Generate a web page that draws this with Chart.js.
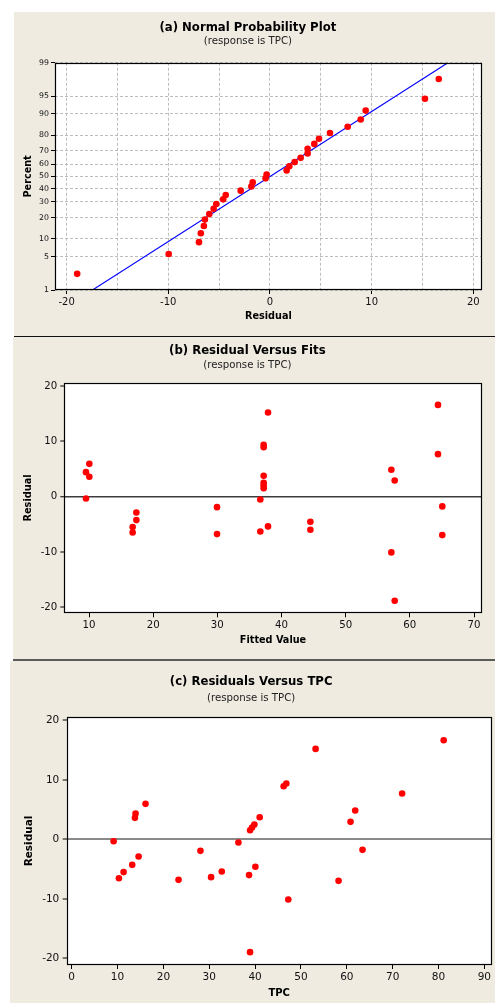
<!DOCTYPE html>
<html><head><meta charset="utf-8">
<script src="https://cdn.jsdelivr.net/npm/chart.js@4.4.1/dist/chart.umd.min.js"></script>
<style>
html,body{margin:0;padding:0;background:#fff;width:495px;height:1003px;overflow:hidden;}
.panel{position:absolute;background:#efebe1;}
#pa{left:14px;top:12px;width:481px;height:324px;}
#lineA{position:absolute;left:14px;top:336px;width:481px;height:1px;background:#111;}
#pb{left:13px;top:337px;width:482px;height:322px;}
#lineB{position:absolute;left:13px;top:659px;width:482px;height:2px;background:#5a5a5a;}
#pc{left:10px;top:661px;width:485px;height:342px;}
canvas{display:block;}
</style></head>
<body>
<div class="panel" id="pa"><canvas id="ca"></canvas></div>
<div id="lineA"></div>
<div class="panel" id="pb"><canvas id="cb"></canvas></div>
<div id="lineB"></div>
<div class="panel" id="pc"><canvas id="cc"></canvas></div>
<script>
// ---------- Data ----------
// (a) Normal probability plot
const pctTicksA = [1, 5, 10, 20, 30, 40, 50, 60, 70, 80, 90, 95, 99];
const resA = [-18.96, -9.96, -6.98, -6.8, -6.5, -6.4, -5.97, -5.54, -5.28, -4.6, -4.35, -2.88, -1.83, -1.7, -0.43, -0.33, 1.64, 1.9, 2.43, 3.02, 3.7, 3.7, 4.36, 4.82, 5.9, 7.64, 8.92, 9.41, 15.24, 16.6];
const pctA = [2.3, 5.6, 8.9, 12.2, 15.5, 18.8, 22.0, 25.3, 28.6, 31.9, 35.2, 38.5, 41.8, 45.1, 48.4, 51.6, 54.9, 58.2, 61.5, 64.8, 68.1, 71.4, 74.7, 78.0, 81.3, 84.5, 87.8, 91.1, 94.4, 97.7];
const fitLineResA = [-17.45, 17.5];
const fitLinePctA = [1, 99];
// (b) Residual versus fits
const fittedB = [9.53, 10.05, 10.05, 9.53, 17.38, 17.38, 16.8, 16.8, 29.95, 29.95, 37.9, 37.22, 37.22, 37.22, 37.22, 37.22, 37.22, 36.7, 36.7, 37.9, 44.5, 44.5, 57.12, 57.64, 57.12, 57.64, 64.39, 64.39, 65.06, 65.06];
const residB = [4.42, 5.92, 3.58, -0.33, -2.86, -4.24, -5.5, -6.47, -1.9, -6.77, 15.19, 9.35, 8.93, 3.76, 2.5, 2.0, 1.53, -0.51, -6.29, -5.38, -4.54, -5.98, 4.84, 2.92, -10.08, -18.8, 16.57, 7.67, -1.77, -6.95];
// (c) Residuals versus TPC
const tpcC = [9.14, 10.3, 11.32, 13.2, 13.79, 13.93, 14.59, 16.1, 23.3, 28.08, 30.4, 32.73, 36.36, 38.68, 38.9, 39.33, 39.84, 40.06, 41.0, 38.9, 46.23, 46.81, 47.24, 53.19, 58.2, 60.81, 61.83, 63.43, 72.06, 81.13];
const residC = [-0.31, -6.52, -5.5, -4.28, 3.61, 4.34, -2.88, 5.96, -6.8, -1.93, -6.35, -5.4, -0.53, -6.0, 1.54, 1.99, 2.49, -4.6, 3.72, -18.94, 8.92, 9.37, -10.1, 15.19, -6.97, 2.94, 4.84, -1.76, 7.69, 16.64];

// ---------- Helpers ----------
function probit(p) {
  const a = [-3.969683028665376e+01, 2.209460984245205e+02, -2.759285104469687e+02, 1.383577518672690e+02, -3.066479806614716e+01, 2.506628277459239e+00];
  const b = [-5.447609879822406e+01, 1.615858368580409e+02, -1.556989798598866e+02, 6.680131188771972e+01, -1.328068155288572e+01];
  const c = [-7.784894002430293e-03, -3.223964580411365e-01, -2.400758277161838e+00, -2.549732539343734e+00, 4.374664141464968e+00, 2.938163982698783e+00];
  const d = [7.784695709041462e-03, 3.224671290700398e-01, 2.445134137142996e+00, 3.754408661907416e+00];
  const pl = 0.02425, ph = 1 - pl;
  let q, r;
  if (p < pl) { q = Math.sqrt(-2 * Math.log(p)); return (((((c[0]*q+c[1])*q+c[2])*q+c[3])*q+c[4])*q+c[5]) / ((((d[0]*q+d[1])*q+d[2])*q+d[3])*q+1); }
  if (p <= ph) { q = p - 0.5; r = q*q; return (((((a[0]*r+a[1])*r+a[2])*r+a[3])*r+a[4])*r+a[5])*q / (((((b[0]*r+b[1])*r+b[2])*r+b[3])*r+b[4])*r+1); }
  q = Math.sqrt(-2 * Math.log(1 - p)); return -(((((c[0]*q+c[1])*q+c[2])*q+c[3])*q+c[4])*q+c[5]) / ((((d[0]*q+d[1])*q+d[2])*q+d[3])*q+1);
}
const pz = v => probit(v / 100);
const FONT = "'DejaVu Sans', Verdana, sans-serif";
const TXT = '#111';

const framePlugin = {
  id: 'frame',
  beforeDraw(chart) {
    const {ctx, chartArea: a} = chart;
    ctx.save(); ctx.fillStyle = '#fff';
    ctx.fillRect(a.left, a.top, a.right - a.left, a.bottom - a.top); ctx.restore();
  },
  afterDatasetsDraw(chart) {
    const {ctx, chartArea: a} = chart;
    ctx.save(); ctx.strokeStyle = '#000'; ctx.lineWidth = 1.2;
    const l = Math.round(a.left) + 0.5, t = Math.round(a.top) + 0.5;
    const r = Math.round(a.right) - 0.5, b = Math.round(a.bottom) - 0.5;
    ctx.strokeRect(l, t, r - l, b - t); ctx.restore();
  }
};

function titles(title, sub, tTop, sTop, sBot) {
  return {
    legend: {display: false}, tooltip: {enabled: false},
    title: {display: true, text: title, color: '#000', font: {family: FONT, size: 11.7, weight: 'bold'}, padding: {top: tTop, bottom: 0}},
    subtitle: {display: true, text: sub, color: '#222', font: {family: FONT, size: 10.2}, padding: {top: sTop, bottom: sBot}}
  };
}
const pointStyle = {pointRadius: 3.3, pointHoverRadius: 3.3, backgroundColor: '#ff0000', borderWidth: 0, showLine: false};

// ---------- (a) ----------
new Chart(document.getElementById('ca'), {
  type: 'scatter',
  data: {datasets: [
    Object.assign({data: resA.map((r, i) => ({x: r, y: pz(pctA[i])}))}, pointStyle, {order: 0}),
    {type: 'line', data: fitLineResA.map((r, i) => ({x: r, y: pz(fitLinePctA[i])})), borderColor: '#0000ff', borderWidth: 1.1, pointRadius: 0, fill: false, order: 1}
  ]},
  options: {
    responsive: true, maintainAspectRatio: false, animation: false, events: [],
    layout: {padding: {left: 0, right: 13.3, top: 0, bottom: 0}},
    plugins: titles('(a) Normal Probability Plot', '(response is TPC)', 8.8, 0.7, 15),
    scales: {
      x: {type: 'linear', min: -21.14, max: 20.82,
        afterFit: s => { s.height = 46; },
        ticks: {stepSize: 5, includeBounds: false, padding: 2.3, maxRotation: 0, autoSkip: false,
          color: TXT, font: {family: FONT, size: 10}, callback: v => (v % 10 === 0 ? v : '')},
        grid: {color: '#bdbdbd', lineWidth: 1, tickLength: 4, tickWidth: 1,
          tickColor: c => (c.tick && c.tick.value % 10 === 0 ? '#000' : 'rgba(0,0,0,0)')},
        border: {display: false, dash: [3, 2]},
        title: {display: true, text: 'Residual', color: '#000', font: {family: FONT, size: 9.7, weight: 'bold'}, padding: {top: 0, bottom: 14.2}}
      },
      y: {type: 'linear', min: pz(pctTicksA[0]), max: pz(pctTicksA[pctTicksA.length - 1]),
        afterFit: s => { s.width = 41; },
        afterBuildTicks: s => { s.ticks = pctTicksA.map(p => ({value: pz(p)})); },
        ticks: {padding: 2, autoSkip: false, color: TXT, font: {family: FONT, size: 7.8}, callback: (v, i) => pctTicksA[i]},
        grid: {color: '#bdbdbd', lineWidth: 1, tickLength: 4, tickWidth: 1, tickColor: '#000'},
        border: {display: false, dash: [3, 2]},
        title: {display: true, text: 'Percent', color: '#000', font: {family: FONT, size: 9.7, weight: 'bold'}, padding: {top: 8.5, bottom: 0}}
      }
    }
  },
  plugins: [framePlugin]
});

// ---------- (b) & (c) ----------
function residChart(id, xs, ys, cfg) {
  new Chart(document.getElementById(id), {
    type: 'scatter',
    data: {datasets: [Object.assign({data: xs.map((x, i) => ({x: x, y: ys[i]}))}, pointStyle)]},
    options: {
      responsive: true, maintainAspectRatio: false, animation: false, events: [],
      layout: {padding: {left: 0, right: cfg.padRight, top: 0, bottom: 0}},
      plugins: titles(cfg.title, '(response is TPC)', cfg.tTop, cfg.sTop, cfg.sBot),
      scales: {
        x: {type: 'linear', min: cfg.xMin, max: cfg.xMax,
          afterFit: s => { s.height = cfg.xH; },
          ticks: {stepSize: 10, includeBounds: false, padding: cfg.xPad, maxRotation: 0, autoSkip: false,
            color: TXT, font: {family: FONT, size: cfg.tickSize}},
          grid: {drawOnChartArea: false, tickLength: 4, tickWidth: 1, tickColor: '#000'},
          border: {display: false},
          title: {display: true, text: cfg.xTitle, color: '#000', font: {family: FONT, size: cfg.xtSize, weight: 'bold'}, padding: {top: 0, bottom: cfg.xtPad}}
        },
        y: {type: 'linear', min: cfg.yMin, max: cfg.yMax,
          afterFit: s => { s.width = cfg.yW; },
          ticks: {stepSize: 10, includeBounds: false, padding: cfg.yPad, autoSkip: false,
            color: TXT, font: {family: FONT, size: cfg.tickSize}},
          grid: {color: c => (c.tick && c.tick.value === 0 ? cfg.zeroColor : 'rgba(0,0,0,0)'),
            lineWidth: c => (c.tick && c.tick.value === 0 ? cfg.zeroWidth : 0),
            tickLength: 4, tickWidth: 1, tickColor: '#000'},
          border: {display: false},
          title: {display: true, text: 'Residual', color: '#000', font: {family: FONT, size: cfg.ytSize, weight: 'bold'}, padding: {top: cfg.ytPad, bottom: 0}}
        }
      }
    },
    plugins: [framePlugin]
  });
}

residChart('cb', fittedB, residB, {
  title: '(b) Residual Versus Fits', tTop: 6.7, sTop: 1.6, sBot: 11,
  padRight: 13.3, xMin: 6.15, xMax: 71.2, yMin: -21.08, yMax: 20.6,
  xH: 45.7, yW: 51.3, xPad: 1.7, yPad: 3, tickSize: 10.2,
  xTitle: 'Fitted Value', xtSize: 9.7, xtPad: 13.2, ytSize: 9.8, ytPad: 9.4,
  zeroColor: '#3c3c3c', zeroWidth: 1.5
});

residChart('cc', tpcC, residC, {
  title: '(c) Residuals Versus TPC', tTop: 14, sTop: 2.7, sBot: 13,
  padRight: 2.7, xMin: -1.09, xMax: 91.6, yMin: -21.1, yMax: 20.55,
  xH: 38, yW: 56.7, xPad: 2, yPad: 3.4, tickSize: 10.5,
  xTitle: 'TPC', xtSize: 10, xtPad: 3.7, ytSize: 10.5, ytPad: 13,
  zeroColor: '#8a8a8a', zeroWidth: 2
});
</script>
</body></html>
